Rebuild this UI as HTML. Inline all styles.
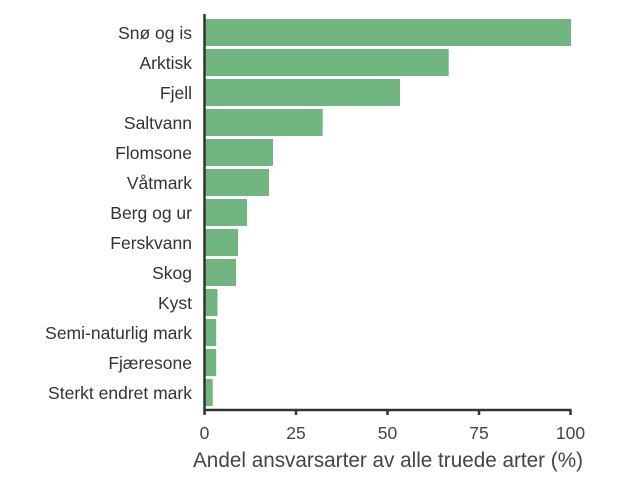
<!DOCTYPE html>
<html><head><meta charset="utf-8"><style>
html,body{margin:0;padding:0;background:#fff;}
</style></head><body>
<svg width="640" height="486" xmlns="http://www.w3.org/2000/svg" font-family="Liberation Sans, sans-serif">
<g fill="#71b580">
<rect x="205" y="19" width="366" height="27"/>
<rect x="205" y="49" width="243.7" height="27"/>
<rect x="205" y="79" width="195" height="27"/>
<rect x="205" y="109" width="117.7" height="27"/>
<rect x="205" y="139" width="68" height="27"/>
<rect x="205" y="169" width="64" height="27"/>
<rect x="205" y="199" width="42" height="27"/>
<rect x="205" y="229" width="33" height="27"/>
<rect x="205" y="259" width="31" height="27"/>
<rect x="205" y="289" width="12.5" height="27"/>
<rect x="205" y="319" width="11.2" height="27"/>
<rect x="205" y="349" width="11.2" height="27"/>
<rect x="205" y="379" width="7.7" height="27"/>
</g>
<g fill="#333" font-size="17.5" text-anchor="end">
<text x="192" y="39">Snø og is</text>
<text x="192" y="69">Arktisk</text>
<text x="192" y="99">Fjell</text>
<text x="192" y="129">Saltvann</text>
<text x="192" y="159">Flomsone</text>
<text x="192" y="189">Våtmark</text>
<text x="192" y="219">Berg og ur</text>
<text x="192" y="249">Ferskvann</text>
<text x="192" y="279">Skog</text>
<text x="192" y="309">Kyst</text>
<text x="192" y="339">Semi-naturlig mark</text>
<text x="192" y="369">Fjæresone</text>
<text x="192" y="399">Sterkt endret mark</text>
</g>
<g stroke="#333" stroke-width="2.5" fill="none">
<line x1="204.5" y1="14" x2="204.5" y2="415"/>
<line x1="203.5" y1="410" x2="571.5" y2="410"/>
<line x1="296" y1="410" x2="296" y2="415"/>
<line x1="387.5" y1="410" x2="387.5" y2="415"/>
<line x1="479" y1="410" x2="479" y2="415"/>
<line x1="570.5" y1="410" x2="570.5" y2="415"/>
</g>
<g fill="#444" font-size="17.5" text-anchor="middle">
<text x="204.5" y="439">0</text>
<text x="296" y="439">25</text>
<text x="387.5" y="439">50</text>
<text x="479" y="439">75</text>
<text x="570.5" y="439">100</text>
</g>
<text x="193" y="467" fill="#444" font-size="21.5" textLength="390" lengthAdjust="spacingAndGlyphs">Andel ansvarsarter av alle truede arter (%)</text>
</svg>
</body></html>
